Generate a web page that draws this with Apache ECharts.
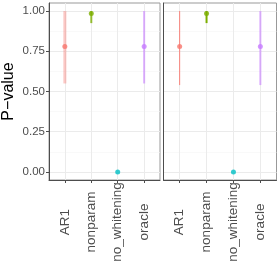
<!DOCTYPE html>
<html><head><meta charset="utf-8">
<script src="https://cdn.jsdelivr.net/npm/echarts@6/dist/echarts.min.js"></script>
<style>html,body{margin:0;padding:0;background:#fff}#c{width:280px;height:280px}</style>
</head><body><div id="c"></div>
<script>
const categories = ['AR1', 'nonparam', 'no_whitening', 'oracle'];
const colors = ['#F8766D', '#7CAE00', '#00BFC4', '#C77CFF'];
const yTicks = [0, 0.25, 0.5, 0.75, 1];
const yMinorTicks = [0.125, 0.375, 0.625, 0.875];
// panel 1
const p1Value = [0.78, 0.985, 0.0, 0.78];
const p1Low = [0.55, 0.925, 0.0, 0.55];
const p1High = [1.0, 1.0, 0.0, 1.0];
// panel 2
const p2Value = [0.78, 0.985, 0.0, 0.78];
const p2Low = [0.54, 0.925, 0.0, 0.54];
const p2High = [1.0, 1.0, 0.0, 1.0];

const panelLineStyle = [
  [{w: 3, o: 0.4}, {w: 2, o: 0.8}, {w: 2, o: 0.6}, {w: 2, o: 0.6}],
  [{w: 1, o: 0.9}, {w: 2, o: 1}, {w: 2, o: 0.6}, {w: 2, o: 0.6}]
];

const font = 'Liberation Sans, Arial, sans-serif';
const grids = [
  {left: 47, top: 3, width: 113, height: 177, show: true, borderColor: '#999', borderWidth: 1, backgroundColor: 'transparent'},
  {left: 163.5, top: 3, width: 113, height: 177, show: true, borderColor: '#999', borderWidth: 1, backgroundColor: 'transparent'}
];
const catIdx = categories.map((c, i) => i);
function xAxisFor(g) {
  return {
    type: 'value', gridIndex: g, min: -0.6, max: 3.6,
    axisLine: {show: true, onZero: false, lineStyle: {color: '#4d4d4d', width: 1}},
    axisTick: {show: true, customValues: catIdx, length: 3, lineStyle: {color: '#4d4d4d'}},
    axisLabel: {show: true, customValues: catIdx, rotate: 90, align: 'center', margin: 42,
      formatter: v => categories[Math.round(v)], color: '#4d4d4d', fontSize: 13.5, fontFamily: font},
    splitLine: {show: true, lineStyle: {color: '#ebebeb', width: 1}}
  };
}
function yAxisFor(g, labels) {
  return {
    type: 'value', gridIndex: g, min: -0.05, max: 1.05,
    name: labels ? 'P\u2212value' : '', nameLocation: 'middle', nameGap: 32,
    nameTextStyle: {fontSize: 16, color: '#000', fontFamily: font},
    axisLine: {show: true, onZero: false, lineStyle: {color: '#4d4d4d', width: 1}},
    axisTick: {show: labels, customValues: yTicks, length: 3, lineStyle: {color: '#4d4d4d'}},
    axisLabel: {show: labels, customValues: yTicks, formatter: v => v.toFixed(2), color: '#4d4d4d', fontSize: 11.5, fontFamily: font, margin: 4},
    splitLine: {show: true, lineStyle: {color: '#ebebeb', width: 1}}
  };
}
function yMinorAxisFor(g) {
  return {
    type: 'value', gridIndex: g, min: -0.05, max: 1.05, position: 'left',
    axisLine: {show: false}, axisLabel: {show: false, customValues: yMinorTicks},
    axisTick: {show: false, customValues: yMinorTicks},
    splitLine: {show: true, lineStyle: {color: '#f5f5f5', width: 0.6}}
  };
}

function panelSeries(g, vals, lows, highs) {
  const styles = panelLineStyle[g];
  const barData = categories.map((c, i) => [i, lows[i], highs[i]]);
  const pts = categories.map((c, i) => ({value: [i, vals[i]], itemStyle: {color: colors[i]}}));
  return [
    {
      type: 'custom', xAxisIndex: g, yAxisIndex: g * 2, data: barData, z: 2, silent: true,
      renderItem: (params, api) => {
        const i = api.value(0);
        const a = api.coord([i, api.value(1)]);
        const b = api.coord([i, api.value(2)]);
        const st = styles[i];
        return {type: 'line', shape: {x1: a[0], y1: a[1], x2: b[0], y2: b[1]},
          style: {stroke: colors[i], lineWidth: st.w, opacity: st.o}};
      }
    },
    {
      type: 'scatter', xAxisIndex: g, yAxisIndex: g * 2, data: pts, symbolSize: 5, z: 3, silent: true
    }
  ];
}

const chart = echarts.init(document.getElementById('c'), null, {renderer: 'canvas'});
chart.setOption({
  animation: false,
  backgroundColor: '#fff',
  grid: grids,
  xAxis: [xAxisFor(0), xAxisFor(1)],
  yAxis: [yAxisFor(0, true), yMinorAxisFor(0), yAxisFor(1, false), yMinorAxisFor(1)],
  series: [].concat(panelSeries(0, p1Value, p1Low, p1High), panelSeries(1, p2Value, p2Low, p2High))
});
</script></body></html>
